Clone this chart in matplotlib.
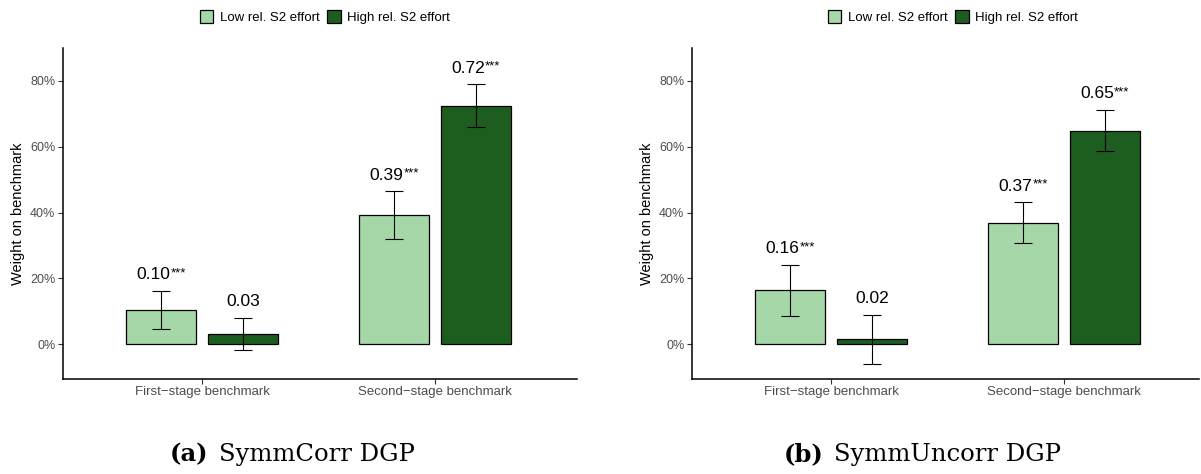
import matplotlib
matplotlib.use("Agg")
import matplotlib.pyplot as plt
from matplotlib.patches import Patch
from matplotlib.offsetbox import TextArea, HPacker, AnnotationBbox
import numpy as np

plt.rcParams['font.family'] = ['Liberation Sans', 'DejaVu Sans']

# ---- data ----
categories = ["First\u2212stage benchmark", "Second\u2212stage benchmark"]
groups = ["Low rel. S2 effort", "High rel. S2 effort"]

corr_low = [0.103, 0.392]
corr_low_lo = [0.045, 0.319]
corr_low_hi = [0.162, 0.465]
corr_high = [0.032, 0.724]
corr_high_lo = [-0.017, 0.659]
corr_high_hi = [0.081, 0.789]
corr_low_lab = ["0.10", "0.39"]
corr_low_star = ["***", "***"]
corr_high_lab = ["0.03", "0.72"]
corr_high_star = ["", "***"]

unc_low = [0.164, 0.368]
unc_low_lo = [0.087, 0.306]
unc_low_hi = [0.241, 0.431]
unc_high = [0.015, 0.649]
unc_high_lo = [-0.061, 0.586]
unc_high_hi = [0.090, 0.712]
unc_low_lab = ["0.16", "0.37"]
unc_low_star = ["***", "***"]
unc_high_lab = ["0.02", "0.65"]
unc_high_star = ["", "***"]

yticks = [0.0, 0.2, 0.4, 0.6, 0.8]
ytick_labels = ["0%", "20%", "40%", "60%", "80%"]

# ---- style ----
light = "#A6D7A8"
dark = "#1D5E20"
W, H = 1201, 474
fig = plt.figure(figsize=(W / 100, H / 100), dpi=100)

def px_axes(x0, x1, ytop, ybot):
    return fig.add_axes([x0 / W, 1 - ybot / H, (x1 - x0) / W, (ybot - ytop) / H])

ax1 = px_axes(63, 577, 48.5, 378.5)
ax2 = px_axes(692, 1199, 48.5, 378.5)

def label(ax, x, y, num, stars):
    parts = [TextArea(num, textprops=dict(fontsize=12.5, color="black"))]
    if stars:
        parts.append(TextArea(stars, textprops=dict(fontsize=9.5, color="black")))
    box = HPacker(children=parts, align="top", pad=0, sep=0)
    ab = AnnotationBbox(box, (x, y), xycoords="data", box_alignment=(0.5, 0.0),
                        frameon=False, pad=0, annotation_clip=False)
    ax.add_artist(ab)

def draw(ax, low, low_lo, low_hi, high, high_lo, high_hi,
         low_lab, low_star, high_lab, high_star, xmax):
    x = np.arange(1, len(categories) + 1)
    off, w = 0.175, 0.30
    for xs, vals, lo, hi, col, labs, stars in [
        (x - off, low, low_lo, low_hi, light, low_lab, low_star),
        (x + off, high, high_lo, high_hi, dark, high_lab, high_star)]:
        ax.bar(xs, vals, width=w, color=col, edgecolor="black", linewidth=0.9, zorder=2)
        vals = np.array(vals); lo = np.array(lo); hi = np.array(hi)
        ax.errorbar(xs, vals, yerr=[vals - lo, hi - vals], fmt="none",
                    ecolor="black", elinewidth=0.8, capsize=6.2, capthick=0.8, zorder=3)
        for xi, h, l, s in zip(xs, hi, labs, stars):
            label(ax, xi, h + 0.026, l, s)
    ax.set_xlim(0.403, xmax)
    ax.set_ylim(-0.104, 0.898)
    ax.set_xticks(x)
    ax.set_xticklabels(categories, fontsize=9.5, color="#4D4D4D")
    ax.set_yticks(yticks)
    ax.set_yticklabels(ytick_labels, fontsize=9, color="#4D4D4D")
    ax.set_ylabel("Weight on benchmark", fontsize=10.5, color="black", labelpad=4)
    for s in ["top", "right"]:
        ax.spines[s].set_visible(False)
    for s in ["left", "bottom"]:
        ax.spines[s].set_linewidth(1.1)
        ax.spines[s].set_color("black")
    ax.tick_params(axis="both", length=3.5, width=0.8, color="#333333", pad=2)

draw(ax1, corr_low, corr_low_lo, corr_low_hi, corr_high, corr_high_lo, corr_high_hi,
     corr_low_lab, corr_low_star, corr_high_lab, corr_high_star, 2.609)
draw(ax2, unc_low, unc_low_lo, unc_low_hi, unc_high, unc_high_lo, unc_high_hi,
     unc_low_lab, unc_low_star, unc_high_lab, unc_high_star, 2.58)

handles = [Patch(facecolor=light, edgecolor="black", linewidth=0.9),
           Patch(facecolor=dark, edgecolor="black", linewidth=0.9)]
for cx in [325, 953]:
    fig.legend(handles, groups, loc="center", bbox_to_anchor=(cx / W, 1 - 17 / H),
               ncol=2, frameon=False, fontsize=9.5, handlelength=1.0, handleheight=1.2,
               handletextpad=0.5, columnspacing=0.6)

# captions
for xb, bold, rest in [(208, "(a)", "SymmCorr DGP"), (823, "(b)", "SymmUncorr DGP")]:
    fig.text(xb / W, 1 - 454 / H, bold, ha="right", va="center", fontsize=17.5,
             family="DejaVu Serif", fontweight="bold")
    fig.text((xb + 11) / W, 1 - 454 / H, rest, ha="left", va="center", fontsize=17.5,
             family="DejaVu Serif")

fig.savefig("out.png", dpi=100)
